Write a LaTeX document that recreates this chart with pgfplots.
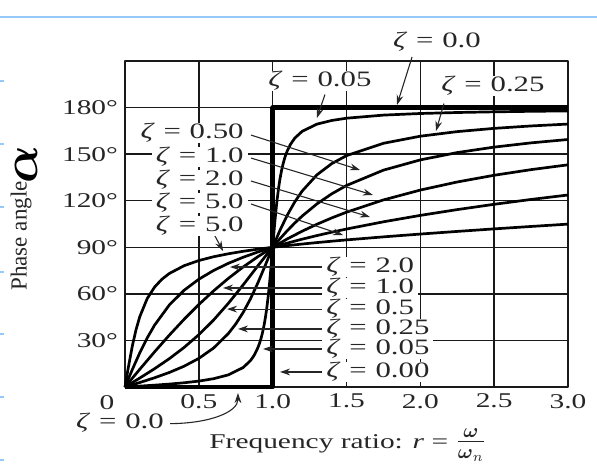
\documentclass[border=0pt]{standalone}
\usepackage{amsmath}
\usepackage{fontspec}
\setmainfont{Liberation Serif}[FakeStretch=1.4]
\newfontfamily\ylfont{Liberation Serif}
\usepackage{pgfplots}
\pgfplotsset{compat=1.18}
\usetikzlibrary{arrows.meta}
\newcommand\zl[1]{\textit{ζ}\hspace{0.4em}=\hspace{0.4em}#1}
\tikzset{ann/.style={line width=0.55pt, black!85, -{Stealth[length=5pt,width=3.4pt]}},
  lab/.style={font=\fontsize{11}{12}\selectfont, text=black!85, inner xsep=2pt, inner ysep=0.3pt, text height=7.4pt, text depth=2.2pt}}
\begin{document}
\begin{tikzpicture}
\path[use as bounding box] (-62.5pt,-43pt) rectangle (236pt,193.5pt);
\draw[color={rgb,255:red,150;green,200;blue,250}, line width=0.8pt] (-62.5pt,185pt) -- (236pt,185pt);
\foreach \yy in {153,121.5,90,57.5,26.5,-5,-36.5} \draw[color={rgb,255:red,150;green,200;blue,250}, line width=0.8pt] (-62.5pt,\yy pt) -- (-60.5pt,\yy pt);
\begin{axis}[
  scale only axis, width=221.5pt, height=163pt,
  xmin=0, xmax=3, ymin=0, ymax=210,
  xtick={0.5,1,1.5,2,2.5,3}, xticklabels={0.5,1.0,1.5,2.0,2.5,3.0},
  ytick={30,60,90,120,150,180}, yticklabels={30°,60°,90°,120°,150°,180°},
  grid=major, grid style={black!90, line width=0.75pt},
  axis line style={black!90, line width=0.9pt},
  tick style={black!90, line width=0.7pt}, major tick length=3pt, tick align=inside,
  tick label style={font=\fontsize{10.5}{12}\selectfont, text=black!85},
  xlabel={Frequency ratio: \textit{r} = {\fontsize{14.4}{16}\selectfont$\frac{\boldsymbol{\omega}}{\boldsymbol{\omega}_n}$}},
  xlabel style={at={(axis description cs:0.503,-0.178)}, anchor=center, font=\fontsize{10.5}{12}\selectfont, text=black!85},
  clip=false,
  line join=round,
]
% zeta = 0.05
\addplot[black, line width=1.35pt] table {
0 0
0.1 0.58
0.2 1.19
0.3 1.89
0.4 2.73
0.5 3.81
0.6 5.36
0.7 7.82
0.8 12.53
0.85 17.03
0.875 20.47
0.9 25.35
0.91 27.90
0.92 30.92
0.93 34.55
0.94 38.92
0.95 44.26
0.96 50.76
0.97 58.65
0.98 68.00
0.99 78.63
1.0 90
1.01 101.25
1.02 111.61
1.03 120.60
1.04 128.12
1.05 134.31
1.06 139.38
1.07 143.56
1.08 147.01
1.09 149.91
1.1 152.35
1.12 156.24
1.15 160.37
1.2 164.74
1.3 169.33
1.4 171.70
1.5 173.16
1.75 175.15
2.0 176.19
2.25 176.83
2.5 177.27
2.75 177.60
3.0 177.85
};
% zeta = 0.25
\addplot[black, line width=1.35pt] table {
0 0
0.05 1.44
0.1 2.89
0.2 5.95
0.3 9.36
0.4 13.39
0.5 18.43
0.6 25.11
0.7 34.46
0.75 40.60
0.8 48.01
0.85 56.86
0.9 67.11
0.95 78.40
1.0 90
1.05 101.05
1.1 110.90
1.15 119.29
1.2 126.26
1.3 136.71
1.4 143.90
1.5 149.04
1.75 157.00
2.0 161.57
2.25 164.52
2.5 166.61
2.75 168.17
3.0 169.38
};
% zeta = 0.5
\addplot[black, line width=1.35pt] table {
0 0
0.05 2.87
0.1 5.77
0.2 11.77
0.3 18.25
0.4 25.46
0.5 33.69
0.6 43.15
0.7 53.92
0.8 65.77
0.85 71.92
0.9 78.08
0.95 84.14
1.0 90
1.05 95.58
1.1 100.81
1.15 105.66
1.2 110.14
1.3 117.96
1.4 124.44
1.5 129.81
1.75 139.69
2.0 146.31
2.25 151.02
2.5 154.54
2.75 157.27
3.0 159.44
};
% zeta = 1.0
\addplot[black, line width=1.35pt] table {
0 0
0.05 5.72
0.1 11.42
0.2 22.62
0.3 33.40
0.4 43.60
0.5 53.13
0.6 61.93
0.7 69.98
0.8 77.32
0.9 83.97
1.0 90
1.1 95.45
1.2 100.39
1.3 104.86
1.4 108.92
1.5 112.62
1.75 120.51
2.0 126.87
2.25 132.08
2.5 136.40
2.75 140.03
3.0 143.13
};
% zeta = 2.0
\addplot[black, line width=1.35pt] table {
0 0
0.025 5.71
0.05 11.34
0.1 22.00
0.15 31.55
0.2 39.81
0.3 52.82
0.4 62.30
0.5 69.44
0.6 75.07
0.7 79.68
0.8 83.58
0.9 86.98
1.0 90
1.1 92.73
1.2 95.24
1.3 97.56
1.4 99.73
1.5 101.77
1.75 106.42
2.0 110.56
2.25 114.29
2.5 117.70
2.75 120.82
3.0 123.69
};
% zeta = 5.0
\addplot[black, line width=1.35pt] table {
0 0
0.01 5.71
0.02 11.31
0.05 26.62
0.075 37.03
0.1 45.29
0.15 56.90
0.2 64.35
0.25 69.44
0.3 73.12
0.4 78.14
0.5 81.47
0.6 83.91
0.7 85.83
0.8 87.42
0.9 88.79
1.0 90
1.1 91.09
1.2 92.10
1.3 93.04
1.4 93.92
1.5 94.76
1.75 96.72
2.0 98.53
2.25 100.23
2.5 101.86
2.75 103.42
3.0 104.93
};
% zeta = 0
\addplot[black, line width=2.2pt] table {
0 0
1 0
1 180
3 180
};
% annotation arrows
\draw[ann] (axis cs:1.944,212.6) -- (axis cs:1.842,181.7);
\draw[ann] (axis cs:1.354,188.4) -- (axis cs:1.300,173.3);
\draw[ann] (axis cs:2.160,182.6) -- (axis cs:2.106,164.9);
\draw[ann] (axis cs:0.853,162.3) -- (axis cs:1.591,139.8);
\draw[ann] (axis cs:0.853,147.5) -- (axis cs:1.679,123.7);
\draw[ann] (axis cs:0.853,132.7) -- (axis cs:1.659,109.5);
\draw[ann] (axis cs:0.853,117.9) -- (axis cs:1.476,97.9);
\draw[ann] (axis cs:0.609,97.3) -- (axis cs:0.664,87.6);
\draw[ann] (axis cs:1.334,77.3) -- (axis cs:0.711,77.3);
\draw[ann] (axis cs:1.334,63.8) -- (axis cs:0.664,63.8);
\draw[ann] (axis cs:1.334,50.2) -- (axis cs:0.691,50.2);
\draw[ann] (axis cs:1.334,37.4) -- (axis cs:0.765,37.4);
\draw[ann] (axis cs:1.334,24.5) -- (axis cs:0.935,24.5);
\draw[ann] (axis cs:1.334,9.7) -- (axis cs:1.05,9.7);
\draw[ann] (axis cs:0.305,-23.6) .. controls (axis cs:0.58,-23.4) and (axis cs:0.765,-16) .. (axis cs:0.765,-3.9);
% labels
\node[lab] at (axis cs:2.113,222.2) {\zl{0.0}};
\node[lab, fill=white] at (axis cs:1.32,197.1) {\zl{0.05}};
\node[lab, fill=white] at (axis cs:2.492,193.9) {\zl{0.25}};
\node[lab, fill=white, anchor=east] at (axis cs:0.833,163.6) {\zl{0.50}};
\node[lab, fill=white, anchor=east] at (axis cs:0.833,148.2) {\zl{1.0}};
\node[lab, fill=white, anchor=east] at (axis cs:0.833,133.3) {\zl{2.0}};
\node[lab, fill=white, anchor=east] at (axis cs:0.833,118.5) {\zl{5.0}};
\node[lab, fill=white, anchor=east] at (axis cs:0.833,103.7) {\zl{5.0}};
\node[lab, fill=white, anchor=west] at (axis cs:1.334,77.3) {\zl{2.0}};
\node[lab, fill=white, anchor=west] at (axis cs:1.334,63.8) {\zl{1.0}};
\node[lab, fill=white, anchor=west] at (axis cs:1.334,50.2) {\zl{0.5}};
\node[lab, fill=white, anchor=west] at (axis cs:1.334,37.4) {\zl{0.25}};
\node[lab, fill=white, anchor=west] at (axis cs:1.334,24.5) {\zl{0.05}};
\node[lab, fill=white, anchor=west] at (axis cs:1.334,9.7) {\zl{0.00}};
\node[lab] at (axis cs:-0.034,-23.2) {\zl{0.0}};
\node[font=\fontsize{10.5}{12}\selectfont, text=black!85, inner sep=0pt] at (axis cs:-0.122,-10.0) {0};
\node[rotate=90, font=\ylfont\fontsize{11.5}{12}\selectfont, text=black!85] at (axis cs:-0.704,97.3) {Phase angle};
\node[rotate=90, inner sep=0pt] at (axis cs:-0.665,143.5) {\Huge$\boldsymbol{\alpha}$};
\end{axis}
\end{tikzpicture}
\end{document}
